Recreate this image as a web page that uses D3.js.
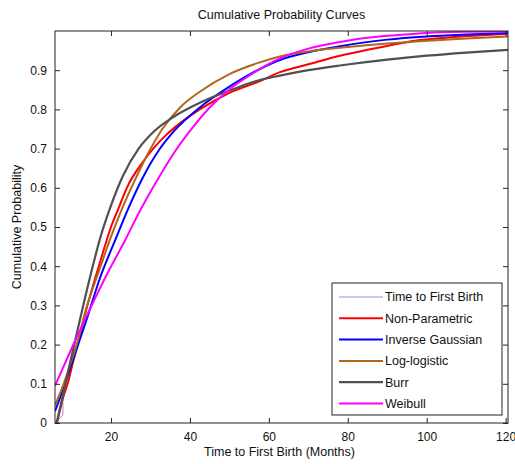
<!DOCTYPE html>
<html>
<head>
<meta charset="utf-8">
<script src="https://cdn.jsdelivr.net/npm/d3@7"></script>
<style>
  html, body { margin: 0; padding: 0; background: #fff; }
  svg { display: block; font-family: "Liberation Sans", Arial, sans-serif; }
</style>
</head>
<body>
<svg id="chart" width="515" height="464"></svg>
<script>
// Fitted and empirical cumulative probability of time to first birth (months)
const seriesNames = ["Time to First Birth", "Non-Parametric", "Inverse Gaussian", "Log-logistic", "Burr", "Weibull"];
const seriesColors = ["#a48ad6", "#ff0000", "#0000ff", "#b0661c", "#505050", "#ff00ff"];
const seriesWidths = [1, 2, 2, 2, 2.2, 2];

const observedT = [5.8, 7.8, 7.8, 9, 10, 12, 14, 16, 17.2, 18.7, 20, 22, 24, 28, 30.7, 34, 37.5, 42.5, 50, 57.7, 62.8, 70, 78, 85, 90, 97, 105, 112, 120.6];
const observedP = [0.0, 0.02, 0.06, 0.10, 0.14, 0.22, 0.30, 0.37, 0.41, 0.46, 0.50, 0.55, 0.60, 0.665, 0.70, 0.735, 0.765, 0.80, 0.842, 0.872, 0.895, 0.915, 0.937, 0.952, 0.962, 0.975, 0.983, 0.988, 0.993];

const nonParamT = [6.3, 7, 8, 9, 10, 11, 12, 13, 14, 15, 16, 17.2, 18.7, 20, 22, 24, 28, 30.7, 34, 37.5, 42.5, 50, 57.7, 62.8, 70, 78, 85, 90, 97, 105, 112, 120.6];
const nonParamP = [0.0, 0.03, 0.07, 0.10, 0.14, 0.18, 0.22, 0.26, 0.30, 0.335, 0.37, 0.41, 0.46, 0.50, 0.55, 0.60, 0.665, 0.70, 0.735, 0.765, 0.80, 0.842, 0.872, 0.895, 0.915, 0.937, 0.952, 0.962, 0.975, 0.983, 0.988, 0.993];

const invGaussT = [5.8, 8, 10, 12, 14, 17.2, 21, 24.5, 28, 32.2, 36, 42.5, 50, 57.7, 62.8, 70, 78, 90, 100, 110, 120.6];
const invGaussP = [0.03, 0.09, 0.15, 0.21, 0.27, 0.37, 0.465, 0.55, 0.625, 0.697, 0.745, 0.805, 0.858, 0.903, 0.926, 0.946, 0.961, 0.978, 0.986, 0.991, 0.995];

const logLogT = [5.8, 8, 10, 11.3, 13.8, 17.2, 19.7, 22.3, 25.6, 29.5, 33, 37.5, 42.5, 50, 57.7, 62.8, 70, 78, 90, 97, 110, 120.6];
const logLogP = [0.045, 0.10, 0.16, 0.20, 0.295, 0.395, 0.467, 0.535, 0.61, 0.69, 0.75, 0.805, 0.845, 0.89, 0.92, 0.935, 0.948, 0.957, 0.968, 0.973, 0.981, 0.986];

const burrT = [6.2, 8, 10, 12.5, 15, 17.2, 20, 23, 27, 31, 35.7, 42.5, 50, 57.7, 62.8, 70, 78, 90, 100, 110, 120.6];
const burrP = [0.0, 0.08, 0.17, 0.28, 0.385, 0.47, 0.555, 0.63, 0.70, 0.745, 0.78, 0.817, 0.848, 0.875, 0.886, 0.90, 0.912, 0.927, 0.937, 0.945, 0.952];

const weibullT = [5.8, 10, 15, 19, 23.5, 27, 31, 35.7, 40, 45, 50, 55, 62.8, 70, 78, 85, 93, 100, 110, 120.6];
const weibullP = [0.095, 0.19, 0.298, 0.38, 0.465, 0.535, 0.607, 0.685, 0.745, 0.805, 0.851, 0.886, 0.93, 0.955, 0.972, 0.983, 0.99, 0.995, 0.998, 0.999];

const xTicks = [20, 40, 60, 80, 100, 120];
const yTicks = [0, 0.1, 0.2, 0.3, 0.4, 0.5, 0.6, 0.7, 0.8, 0.9];

const seriesT = [observedT, nonParamT, invGaussT, logLogT, burrT, weibullT];
const seriesP = [observedP, nonParamP, invGaussP, logLogP, burrP, weibullP];

const svg = d3.select("#chart");
const plot = { left: 55, right: 508, top: 31, bottom: 423 };

const x = d3.scaleLinear().domain([5.8, 120.6]).range([plot.left, plot.right]);
const y = d3.scaleLinear().domain([0, 1]).range([plot.bottom, plot.top]);

// Curves
const smooth = d3.line().x(d => x(d[0])).y(d => y(d[1])).curve(d3.curveMonotoneX);
const straight = d3.line().x(d => x(d[0])).y(d => y(d[1]));

svg.append("clipPath").attr("id", "plot-clip")
  .append("rect")
  .attr("x", plot.left).attr("y", plot.top)
  .attr("width", plot.right - plot.left).attr("height", plot.bottom - plot.top);

const curves = svg.append("g").attr("clip-path", "url(#plot-clip)");
seriesNames.forEach((name, i) => {
  const pts = seriesT[i].map((t, j) => [t, seriesP[i][j]]);
  curves.append("path")
    .datum(pts)
    .attr("fill", "none")
    .attr("stroke", seriesColors[i])
    .attr("stroke-width", seriesWidths[i])
    .attr("stroke-linejoin", "round")
    .attr("d", i === 0 ? straight(pts) : smooth(pts));
});

// Axes with inward ticks on all four sides
const tickLen = 5;
const axisColor = "#222";

svg.append("g")
  .attr("transform", `translate(0,${plot.bottom})`)
  .call(d3.axisBottom(x).tickValues(xTicks).tickSize(-tickLen).tickPadding(9).tickSizeOuter(0))
  .call(g => g.select(".domain").remove());

svg.append("g")
  .attr("transform", `translate(0,${plot.top})`)
  .call(d3.axisTop(x).tickValues(xTicks).tickSize(-tickLen).tickFormat("").tickSizeOuter(0))
  .call(g => g.select(".domain").remove());

svg.append("g")
  .attr("transform", `translate(${plot.left},0)`)
  .call(d3.axisLeft(y).tickValues(yTicks).tickSize(-tickLen).tickPadding(8).tickSizeOuter(0)
    .tickFormat(d => d === 0 ? "0" : d3.format(".1f")(d)))
  .call(g => g.select(".domain").remove());

svg.append("g")
  .attr("transform", `translate(${plot.right},0)`)
  .call(d3.axisRight(y).tickValues(yTicks).tickSize(-tickLen).tickFormat("").tickSizeOuter(0))
  .call(g => g.select(".domain").remove());

svg.selectAll(".tick line").attr("stroke", axisColor);
svg.selectAll(".tick text").attr("fill", "#111").style("font-size", "12px")
  .style("font-family", "'Liberation Sans', Arial, sans-serif");

svg.append("rect")
  .attr("x", plot.left).attr("y", plot.top)
  .attr("width", plot.right - plot.left).attr("height", plot.bottom - plot.top)
  .attr("fill", "none").attr("stroke", axisColor).attr("stroke-width", 1);

// Titles
svg.append("text")
  .attr("x", (plot.left + plot.right) / 2).attr("y", 19)
  .attr("text-anchor", "middle").attr("fill", "#111")
  .style("font-size", "12.5px")
  .text("Cumulative Probability Curves");

svg.append("text")
  .attr("x", (plot.left + plot.right) / 2 - 2).attr("y", 456)
  .attr("text-anchor", "middle").attr("fill", "#111")
  .style("font-size", "12.5px")
  .text("Time to First Birth (Months)");

svg.append("text")
  .attr("transform", `translate(21,${(plot.top + plot.bottom) / 2}) rotate(-90)`)
  .attr("text-anchor", "middle").attr("fill", "#111")
  .style("font-size", "12.5px")
  .text("Cumulative Probability");

// Legend
const legend = svg.append("g").attr("transform", "translate(332,283)");
legend.append("rect")
  .attr("x", 0).attr("y", 0).attr("width", 170).attr("height", 132)
  .attr("fill", "#fff").attr("stroke", axisColor).attr("stroke-width", 1);

seriesNames.forEach((name, i) => {
  const yy = 14 + i * 21.3;
  legend.append("line")
    .attr("x1", 7).attr("x2", 51).attr("y1", yy).attr("y2", yy)
    .attr("stroke", seriesColors[i]).attr("stroke-width", seriesWidths[i]);
  legend.append("text")
    .attr("x", 53).attr("y", yy).attr("dy", "0.35em")
    .attr("fill", "#111").style("font-size", "12.5px")
    .text(name);
});
</script>
</body>
</html>
